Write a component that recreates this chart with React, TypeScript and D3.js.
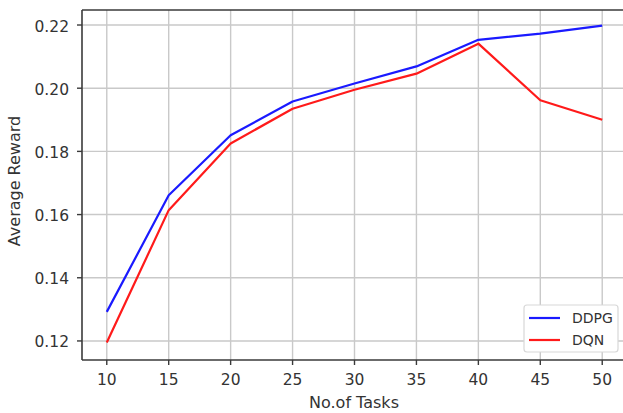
import React from "react";
import * as d3 from "d3";

const tasks = [10, 15, 20, 25, 30, 35, 40, 45, 50];
const ddpg = [0.1292, 0.1661, 0.1851, 0.1958, 0.2015, 0.2069, 0.2153, 0.2173, 0.2198];
const dqn = [0.1195, 0.1614, 0.1825, 0.1935, 0.1995, 0.2046, 0.2141, 0.1962, 0.1900];
const xTicks = [10, 15, 20, 25, 30, 35, 40, 45, 50];
const yTicks = [0.12, 0.14, 0.16, 0.18, 0.2, 0.22];
const seriesNames = ["DDPG", "DQN"];
const seriesColors = ["#1a1aff", "#ff1a1a"];

const W = 623;
const H = 413;
const M = { left: 82, right: 627, top: 10, bottom: 360 };
const FONT = "DejaVu Sans, sans-serif";

export default function App() {
  const x = d3.scaleLinear().domain([8, 52]).range([M.left, M.right]);
  const y = d3.scaleLinear().domain([0.11397, 0.22475]).range([M.bottom, M.top]);
  const line = d3
    .line<number>()
    .x((_, i) => x(tasks[i]))
    .y((d) => y(d));
  const series = [ddpg, dqn];

  const lgX = 524;
  const lgY = 305;

  return (
    <svg
      width={W}
      height={H}
      style={{ position: "absolute", left: 0, top: 0, background: "#fff" }}
      fontFamily={FONT}
    >
      <rect width={W} height={H} fill="#fff" />
      {/* grid */}
      <g stroke="#c9c9c9" strokeWidth={1.4}>
        {xTicks.map((t) => (
          <line key={"gx" + t} x1={x(t)} x2={x(t)} y1={M.top} y2={M.bottom} />
        ))}
        {yTicks.map((t) => (
          <line key={"gy" + t} x1={M.left} x2={M.right} y1={y(t)} y2={y(t)} />
        ))}
      </g>
      {/* series */}
      {series.map((s, i) => (
        <path
          key={seriesNames[i]}
          d={line(s) ?? ""}
          fill="none"
          stroke={seriesColors[i]}
          strokeWidth={2.2}
          strokeLinejoin="round"
        />
      ))}
      {/* spines */}
      <g stroke="#3a3a3a" strokeWidth={1.6} fill="none">
        <line x1={M.left} x2={M.left} y1={M.top} y2={M.bottom} />
        <line x1={M.left} x2={M.right} y1={M.top} y2={M.top} />
        <line x1={M.left} x2={M.right} y1={M.bottom} y2={M.bottom} />
      </g>
      {/* x ticks */}
      {xTicks.map((t) => (
        <g key={"xt" + t}>
          <line x1={x(t)} x2={x(t)} y1={M.bottom} y2={M.bottom + 5} stroke="#3a3a3a" strokeWidth={1.4} />
          <text x={x(t)} y={385} textAnchor="middle" fontSize={15.5} fill="#333">
            {t}
          </text>
        </g>
      ))}
      {/* y ticks */}
      {yTicks.map((t) => (
        <g key={"yt" + t}>
          <line x1={M.left - 5} x2={M.left} y1={y(t)} y2={y(t)} stroke="#3a3a3a" strokeWidth={1.4} />
          <text x={69} y={y(t) + 6.5} textAnchor="end" fontSize={15.5} fill="#333">
            {t.toFixed(2)}
          </text>
        </g>
      ))}
      {/* axis labels */}
      <text x={354} y={408} textAnchor="middle" fontSize={16} fill="#333">
        No.of Tasks
      </text>
      <text
        transform={`translate(20,${(M.top + M.bottom) / 2 - 4}) rotate(-90)`}
        textAnchor="middle"
        fontSize={16}
        fill="#333"
      >
        Average Reward
      </text>
      {/* legend */}
      <rect x={lgX} y={lgY} width={94} height={47} rx={3} fill="#fff" stroke="#d8d8d8" strokeWidth={1.2} />
      {seriesNames.map((n, i) => (
        <g key={"lg" + n}>
          <line
            x1={lgX + 5}
            x2={lgX + 36}
            y1={lgY + 13 + i * 22}
            y2={lgY + 13 + i * 22}
            stroke={seriesColors[i]}
            strokeWidth={2.2}
          />
          <text x={lgX + 48} y={lgY + 18 + i * 22} fontSize={14} fill="#333">
            {n}
          </text>
        </g>
      ))}
    </svg>
  );
}
